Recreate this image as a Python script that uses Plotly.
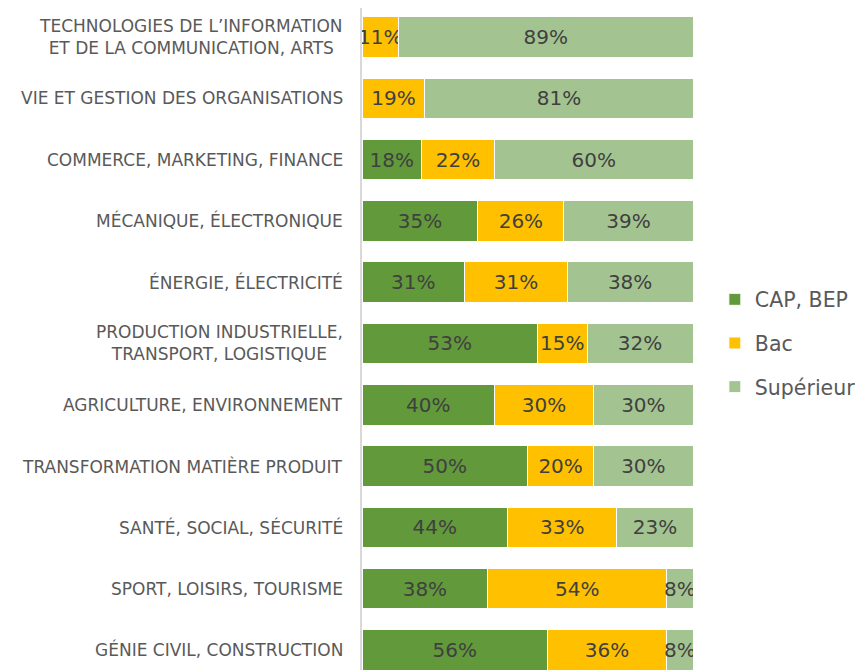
import plotly.graph_objects as go

# categories from top to bottom of the chart
categories = [
    "TECHNOLOGIES DE L’INFORMATION<br>ET DE LA COMMUNICATION, ARTS",
    "VIE ET GESTION DES ORGANISATIONS",
    "COMMERCE, MARKETING, FINANCE",
    "MÉCANIQUE, ÉLECTRONIQUE",
    "ÉNERGIE, ÉLECTRICITÉ",
    "PRODUCTION INDUSTRIELLE,<br>TRANSPORT, LOGISTIQUE",
    "AGRICULTURE, ENVIRONNEMENT",
    "TRANSFORMATION MATIÈRE PRODUIT",
    "SANTÉ, SOCIAL, SÉCURITÉ",
    "SPORT, LOISIRS, TOURISME",
    "GÉNIE CIVIL, CONSTRUCTION",
]
cap_bep = [0, 0, 18, 35, 31, 53, 40, 50, 44, 38, 56]
bac = [11, 19, 22, 26, 31, 15, 30, 20, 33, 54, 36]
superieur = [89, 81, 60, 39, 38, 32, 30, 30, 23, 8, 8]

series = [
    ("CAP, BEP", cap_bep, "#61993b"),
    ("Bac", bac, "#ffc000"),
    ("Supérieur", superieur, "#a3c491"),
]

FONT = "DejaVu Sans"
y_pos = list(range(len(categories) - 1, -1, -1))

fig = go.Figure()
for name, values, color in series:
    fig.add_trace(
        go.Bar(
            y=y_pos,
            x=[v if v else None for v in values],
            name=name,
            legendgroup=name,
            orientation="h",
            width=0.66,
            marker={"color": color, "line": {"color": "white", "width": 1}},
            text=[f"{v}%" if v else "" for v in values],
            textposition="inside",
            insidetextanchor="middle",
            textangle=0,
            constraintext="none",
            textfont={"family": FONT, "size": 20, "color": "#404040"},
            hoverinfo="skip",
        )
    )

# category labels, right-aligned against the axis, lines centred like Excel
for label, yp in zip(categories, y_pos):
    fig.add_annotation(
        x=0,
        y=yp,
        xref="paper",
        yref="y",
        text=label,
        showarrow=False,
        xanchor="right",
        yanchor="middle",
        align="center",
        xshift=-17,
        font={"family": FONT, "size": 17, "color": "#595959"},
    )

# the page adds an 8px body margin, so margins are offset by 8px
fig.update_layout(
    width=866,
    height=670,
    barmode="stack",
    plot_bgcolor="white",
    paper_bgcolor="white",
    margin={"l": 354, "r": 181, "t": 0, "b": 0},
    showlegend=True,
    legend={
        "x": 1.066,
        "y": 0.5,
        "xanchor": "left",
        "yanchor": "middle",
        "xref": "paper",
        "traceorder": "grouped",
        "tracegroupgap": 14,
        "font": {"family": FONT, "size": 20.5, "color": "#595959"},
        "itemwidth": 30,
    },
)
fig.update_xaxes(range=[0, 100], visible=False, fixedrange=True)
fig.update_yaxes(
    range=[-0.457, 10.473],
    showticklabels=False,
    showgrid=False,
    zeroline=False,
    showline=True,
    linecolor="#d9d9d9",
    linewidth=2,
    fixedrange=True,
)

fig.write_html("out.html")
